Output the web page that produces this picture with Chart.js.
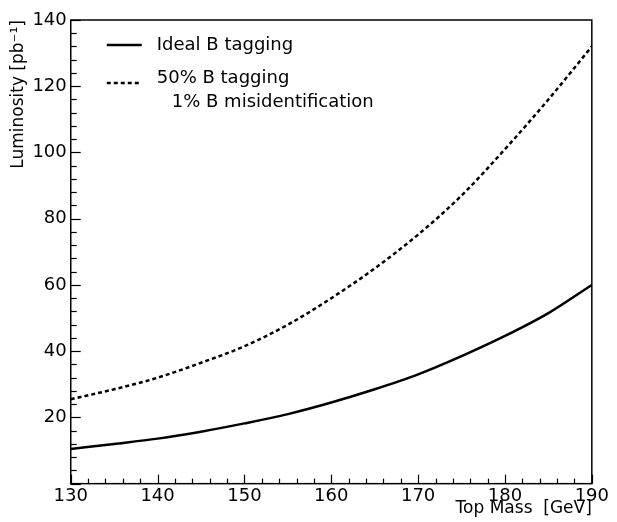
<!DOCTYPE html>
<html>
<head>
<meta charset="utf-8">
<script src="https://cdn.jsdelivr.net/npm/chart.js@4.4.1/dist/chart.umd.min.js"></script>
<style>
  html, body { margin: 0; padding: 0; background: #fff; }
  #wrap { width: 617px; height: 522px; }
</style>
</head>
<body>
<div id="wrap"><canvas id="myChart"></canvas></div>
<script>
// top mass points (GeV)
const topMass = [130, 135, 140, 145, 150, 155, 160, 165, 170, 175, 180, 185, 190];
// luminosity needed, ideal B tagging (pb^-1)
const idealLum = [10.5, 12, 13.6, 15.7, 18.2, 21, 24.5, 28.5, 33, 38.5, 44.6, 51.5, 60];
// luminosity needed, 50% tagging + 1% misidentification
const taggedLum = [25.5, 28.5, 32, 36.5, 41.5, 48, 56, 65, 75.2, 87, 101, 116, 132];

const legendLines = [['Ideal B tagging'], ['50% B tagging', '1% B misidentification']];

const FONT = 'DejaVu Sans';

function toPoints(xs, ys) {
    return xs.map((x, i) => ({ x: x, y: ys[i] }));
}

// draw inward tick marks and closed frame
const framePlugin = {
    id: 'frame',
    afterDatasetsDraw(chart) {
        const ctx = chart.ctx;
        const a = chart.chartArea;
        const xs = chart.scales.x;
        const ys = chart.scales.y;
        ctx.save();
        ctx.strokeStyle = '#000';
        ctx.lineWidth = 1.2;
        xs.ticks.forEach(t => {
            const px = Math.round(xs.getPixelForValue(t.value)) + 0.5;
            const len = t.value % 10 === 0 ? 9 : 5;
            ctx.beginPath();
            ctx.moveTo(px, a.bottom);
            ctx.lineTo(px, a.bottom - len);
            ctx.stroke();
        });
        ys.ticks.forEach(t => {
            const py = Math.round(ys.getPixelForValue(t.value)) + 0.5;
            const len = t.value % 20 === 0 ? 10 : 6;
            ctx.beginPath();
            ctx.moveTo(a.left, py);
            ctx.lineTo(a.left + len, py);
            ctx.stroke();
        });
        ctx.lineWidth = 1.5;
        ctx.strokeRect(a.left, a.top, a.right - a.left, a.bottom - a.top);
        ctx.restore();
    }
};

// legend in the top-left of the plot
const legendPlugin = {
    id: 'innerLegend',
    afterDatasetsDraw(chart) {
        const ctx = chart.ctx;
        const a = chart.chartArea;
        ctx.save();
        ctx.font = '18px "' + FONT + '"';
        ctx.fillStyle = '#000';
        ctx.textBaseline = 'middle';
        let y = a.top + 25;
        chart.data.datasets.forEach((ds, i) => {
            ctx.strokeStyle = ds.borderColor;
            ctx.lineWidth = ds.borderWidth;
            ctx.setLineDash(ds.borderDash || []);
            ctx.beginPath();
            ctx.moveTo(a.left + 36, y + (i === 1 ? 5 : 0));
            ctx.lineTo(a.left + 71, y + (i === 1 ? 5 : 0));
            ctx.stroke();
            ctx.setLineDash([]);
            legendLines[i].forEach((txt, j) => {
                ctx.fillText(txt, a.left + 86 + (j > 0 ? 15 : 0), y + j * 24);
            });
            y += 33;
        });
        ctx.restore();
    }
};

const ctx = document.getElementById('myChart').getContext('2d');
new Chart(ctx, {
    type: 'line',
    data: {
        datasets: [
            {
                label: legendLines[0].join(' '),
                data: toPoints(topMass, idealLum),
                borderColor: '#000',
                borderWidth: 2.5,
                pointRadius: 0,
                cubicInterpolationMode: 'monotone',
                fill: false
            },
            {
                label: legendLines[1].join(' '),
                data: toPoints(topMass, taggedLum),
                borderColor: '#000',
                borderWidth: 2.5,
                borderDash: [4, 3],
                pointRadius: 0,
                cubicInterpolationMode: 'monotone',
                fill: false
            }
        ]
    },
    options: {
        responsive: true,
        maintainAspectRatio: false,
        animation: false,
        layout: { autoPadding: false, padding: { left: 4, right: 13, top: 20, bottom: 13 } },
        plugins: { legend: { display: false }, tooltip: { enabled: false } },
        scales: {
            x: {
                type: 'linear',
                min: 130,
                max: 190,
                grid: { display: false, drawTicks: false },
                border: { display: false },
                ticks: {
                    stepSize: 2,
                    autoSkip: false,
                    maxRotation: 0,
                    padding: 8,
                    color: '#000',
                    font: { family: FONT, size: 18, lineHeight: 0.5 },
                    callback: v => (v % 10 === 0 ? String(v) : '')
                },
                title: {
                    display: true,
                    text: 'Top Mass  [GeV]',
                    align: 'end',
                    color: '#000',
                    padding: { top: 0, bottom: 0 },
                    font: { family: FONT, size: 17, lineHeight: 0.02 }
                }
            },
            y: {
                min: 0,
                max: 140,
                grid: { display: false, drawTicks: false },
                border: { display: false },
                ticks: {
                    stepSize: 4,
                    autoSkip: false,
                    padding: 4,
                    color: '#000',
                    font: { family: FONT, size: 18 },
                    callback: v => (v % 20 === 0 && v > 0 ? String(v) : '')
                },
                title: {
                    display: true,
                    text: 'Luminosity [pb\u207B\u00B9]',
                    align: 'end',
                    color: '#000',
                    padding: { top: 4, bottom: 0 },
                    font: { family: FONT, size: 17 }
                }
            }
        }
    },
    plugins: [framePlugin, legendPlugin]
});
</script>
</body>
</html>
